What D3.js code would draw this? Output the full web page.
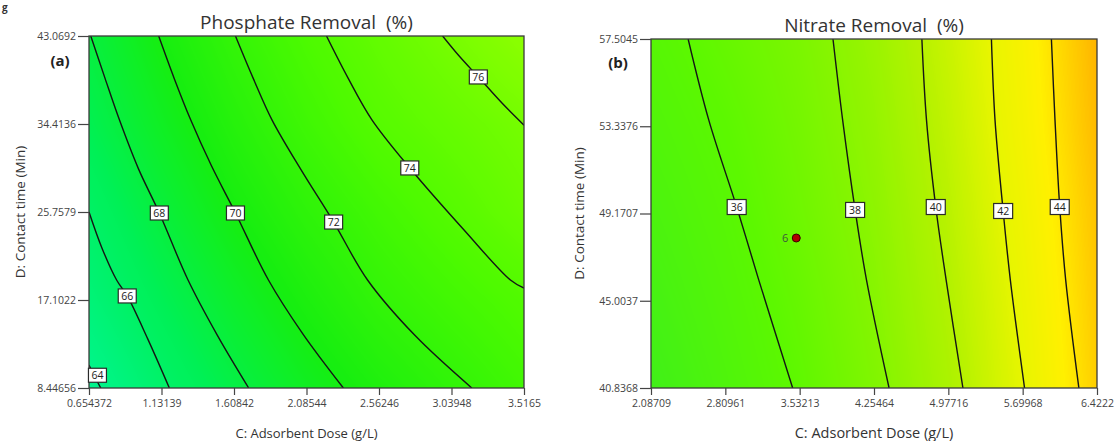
<!DOCTYPE html>
<meta charset="utf-8" />
<script src="https://d3js.org/d3.v7.min.js"></script>

<body style="margin:0;background:#fff;font-family:'Open Sans',sans-serif">
<svg id="chart" width="1118" height="441" style="display:block"></svg>

<script>
/* ── DATA ── */
// (a) phosphate: tick values, response estimated at tick crossings (rows bottom -> top)
const phosX = [0.654372, 1.13139, 1.60842, 2.08544, 2.56246, 3.03948, 3.5165];
const phosY = [8.44656, 17.1022, 25.7579, 34.4136, 43.0692];
const phosGrid = [
  [63.65, 65.77, 67.63, 69.22, 70.55, 71.68, 72.80],
  [64.98, 66.96, 68.80, 70.40, 71.83, 72.86, 73.83],
  [66.00, 68.08, 69.99, 71.56, 72.86, 74.05, 75.25],
  [67.12, 69.15, 71.03, 72.66, 74.09, 75.06, 76.00],
  [67.95, 70.07, 71.96, 73.56, 74.90, 76.15, 77.40]
];
const phosLevels = [64, 66, 68, 70, 72, 74, 76];
const phosLines = [
  [[0.6544,10.71],[0.69,9.6],[0.732,8.4466]],
  [[0.6544,25.76],[0.74,22.2],[0.836,19.07],[0.906,17.5],[1.04,13.3],[1.183,8.4466]],
  [[0.666,43.07],[0.76,38.9],[0.855,34.8],[0.98,30.0],[1.117,25.66],[1.306,19.07],[1.50,13.6],[1.705,8.4466]],
  [[1.113,43.07],[1.215,38.9],[1.324,34.8],[1.46,30.3],[1.618,25.66],[1.835,19.07],[2.06,13.8],[2.328,8.4466]],
  [[1.618,43.07],[1.735,38.9],[1.859,34.8],[2.05,29.9],[2.264,24.77],[2.487,19.07],[2.80,13.6],[3.173,8.4466]],
  [[2.217,43.07],[2.36,38.9],[2.517,34.8],[2.765,30.09],[3.122,23.99],[3.427,19.07],[3.5165,18.28]],
  [[2.981,43.07],[3.09,41.1],[3.216,39.04],[3.37,36.5],[3.5165,34.3]]
];
const phosLabelAt = [[0.71,9.7],[0.906,17.5],[1.117,25.66],[1.618,25.66],[2.264,24.77],[2.765,30.09],[3.216,39.04]];

// (b) nitrate
const nitX = [2.08709, 2.80961, 3.53213, 4.25464, 4.97716, 5.69968, 6.4222];
const nitY = [40.8368, 45.0037, 49.1707, 53.3376, 57.5045];
const nitGrid = [
  [33.5, 34.8, 36.15, 37.7, 39.6, 41.95, 44.7],
  [34.0, 35.2, 36.5, 38.0, 39.9, 42.2, 44.9],
  [34.5, 35.6, 36.9, 38.3, 40.2, 42.5, 45.1],
  [35.0, 36.0, 37.2, 38.6, 40.5, 42.8, 45.4],
  [35.5, 36.5, 37.5, 38.9, 40.8, 43.0, 45.6]
];
const nitLevels = [36, 38, 40, 42, 44];
const nitLines = [
  [[2.448,57.5045],[2.649,53.63],[2.920,49.48],[3.135,45.99],[3.464,40.8368]],
  [[3.856,57.5045],[3.950,53.63],[4.071,49.34],[4.182,45.99],[4.401,40.8368]],
  [[4.720,57.5045],[4.765,53.63],[4.855,49.48],[4.956,45.99],[5.119,40.8368]],
  [[5.396,57.5045],[5.431,53.63],[5.510,49.29],[5.580,45.99],[5.718,40.8368]],
  [[5.979,57.5045],[6.014,53.63],[6.060,49.48],[6.118,45.99],[6.246,40.8368]]
];
const nitLabelAt = [[2.920,49.48],[4.071,49.34],[4.855,49.48],[5.510,49.29],[6.060,49.48]];
const nitPoints = [{x:3.499, y:48.0, n:"6"}];

/* ── CONFIG ── */
const panels = [
  {id:"a", title:"Phosphate Removal  (%)", xs:phosX, ys:phosY, grid:phosGrid, levels:phosLevels,
   lines:phosLines, labels:phosLabelAt, points:[],
   box:[89,524,36,388], titleY:29, axSize:13, ylabX:25, tag:[60,66], boxW:18, boxH:14,
   colDom:[63.5,67,70,73.5,77.5], colors:["#00f592","#00f054","#16ee10","#4cfa00","#8eff00"]},
  {id:"b", title:"Nitrate Removal  (%)", xs:nitX, ys:nitY, grid:nitGrid, levels:nitLevels,
   lines:nitLines, labels:nitLabelAt, points:nitPoints,
   box:[651,1097,39,388], titleY:32, axSize:14.5, ylabX:584, tag:[618,68], boxW:19, boxH:15,
   colDom:[33.5,36,38,40,42,43.5,45.6], colors:["#40f018","#5cf800","#86f500","#b4f200","#e8f500","#fff000","#ffb400"]}
];

const svg = d3.select("#chart");

// caption remnant top-left
svg.append("text").attr("x",2).attr("y",11).attr("font-size",10).attr("font-weight",700)
   .attr("fill","#333").text("g");

panels.forEach(p=>{
  const [x0,x1,y0,y1] = p.box;
  const x = d3.scaleLinear([p.xs[0], p.xs[p.xs.length-1]], [x0,x1]);
  const y = d3.scaleLinear([p.ys[0], p.ys[p.ys.length-1]], [y1,y0]);
  const col = d3.scaleLinear(p.colDom, p.colors).interpolate(d3.interpolateRgb).clamp(true);
  const g = svg.append("g");

  /* smooth fill from the grid */
  const w = x1-x0, h = y1-y0;
  const cv = document.createElement("canvas"); cv.width = w; cv.height = h;
  const ctx = cv.getContext("2d"), img = ctx.createImageData(w,h);
  const fi = d3.scaleLinear(p.xs, d3.range(p.xs.length)),
        fj = d3.scaleLinear(p.ys, d3.range(p.ys.length));
  const lo = p.colDom[0], hi = p.colDom[p.colDom.length-1];
  const lut = d3.range(256).map(k=>d3.rgb(col(lo + (hi-lo)*k/255)));
  for(let j=0;j<h;j++){
    const b = fj(y.invert(y0+j+.5)), j0 = Math.max(0,Math.min(p.ys.length-2,Math.floor(b))), ty = b-j0;
    for(let i=0;i<w;i++){
      const a = fi(x.invert(x0+i+.5)), i0 = Math.max(0,Math.min(p.xs.length-2,Math.floor(a))), tx = a-i0;
      const r0 = p.grid[j0], r1 = p.grid[j0+1];
      const v = (r0[i0]*(1-tx)+r0[i0+1]*tx)*(1-ty) + (r1[i0]*(1-tx)+r1[i0+1]*tx)*ty;
      const c = lut[Math.max(0,Math.min(255,Math.round((v-lo)/(hi-lo)*255)))];
      const o = (j*w+i)*4;
      img.data[o]=c.r; img.data[o+1]=c.g; img.data[o+2]=c.b; img.data[o+3]=255;
    }
  }
  ctx.putImageData(img,0,0);
  g.append("image").attr("x",x0).attr("y",y0).attr("width",w).attr("height",h)
   .attr("preserveAspectRatio","none").attr("href",cv.toDataURL());

  /* contours */
  svg.append("clipPath").attr("id","clip-"+p.id).append("rect")
     .attr("x",x0).attr("y",y0).attr("width",w).attr("height",h);
  const line = d3.line().x(d=>x(d[0])).y(d=>y(d[1])).curve(d3.curveCatmullRom.alpha(0.5));
  g.append("g").attr("clip-path",`url(#clip-${p.id})`)
   .selectAll("path").data(p.lines).join("path")
     .attr("d",line).attr("fill","none").attr("stroke","#151515").attr("stroke-width",1.4);

  /* frame */
  g.append("rect").attr("x",x0).attr("y",y0).attr("width",w).attr("height",h)
   .attr("fill","none").attr("stroke","#3a3a3a").attr("stroke-width",1.3);

  /* contour labels */
  const lab = g.selectAll("g.lab").data(p.labels).join("g").attr("class","lab")
     .attr("transform",d=>`translate(${x(d[0])},${y(d[1])})`);
  lab.append("rect").attr("x",-p.boxW/2).attr("y",-p.boxH/2).attr("width",p.boxW).attr("height",p.boxH)
     .attr("fill","#fff").attr("stroke","#2a2a2a").attr("stroke-width",1.2);
  lab.append("text").attr("text-anchor","middle").attr("dy","0.36em")
     .attr("font-size",10.5).attr("fill","#222").text((d,i)=>p.levels[i]);

  /* design points */
  const pt = g.selectAll("g.pt").data(p.points).join("g").attr("class","pt")
     .attr("transform",d=>`translate(${x(d.x)},${y(d.y)})`);
  pt.append("circle").attr("r",4).attr("fill","#b00000").attr("stroke","#3a0000").attr("stroke-width",1);
  pt.append("text").attr("x",-8).attr("dy","0.36em").attr("text-anchor","end")
    .attr("font-size",11).attr("fill","#3c5a3c").text(d=>d.n);

  /* axes */
  const ax = g.append("g").attr("transform",`translate(0,${y1})`)
     .call(d3.axisBottom(x).tickValues(p.xs).tickSize(7).tickPadding(5).tickFormat(d=>d));
  const ay = g.append("g").attr("transform",`translate(${x0},0)`)
     .call(d3.axisLeft(y).tickValues(p.ys).tickSize(11).tickPadding(2).tickFormat(d=>d));
  [ax,ay].forEach(a=>{
    a.select(".domain").remove();
    a.selectAll(".tick line").attr("stroke","#444").attr("stroke-width",1.2);
    a.selectAll(".tick text").attr("fill","#444").attr("font-size",10.5)
      .attr("font-family","'Open Sans',sans-serif");
  });

  /* titles */
  const cx = (x0+x1)/2;
  g.append("text").attr("x",cx).attr("y",p.titleY).attr("text-anchor","middle")
   .attr("font-size",19).attr("fill","#333").style("white-space","pre").text(p.title);
  g.append("text").attr("x",cx).attr("y",438).attr("text-anchor","middle")
   .attr("font-size",p.axSize).attr("fill","#333").text("C: Adsorbent Dose (g/L)");
  g.append("text").attr("transform",`translate(${p.ylabX},${(y0+y1)/2}) rotate(-90)`)
   .attr("text-anchor","middle").attr("font-size",13.5).attr("fill","#333").text("D: Contact time (Min)");
  g.append("text").attr("x",p.tag[0]).attr("y",p.tag[1]).attr("text-anchor","middle")
   .attr("font-size",15).attr("font-weight",700).attr("fill","#222").text(`(${p.id})`);
});
</script>
</body>
